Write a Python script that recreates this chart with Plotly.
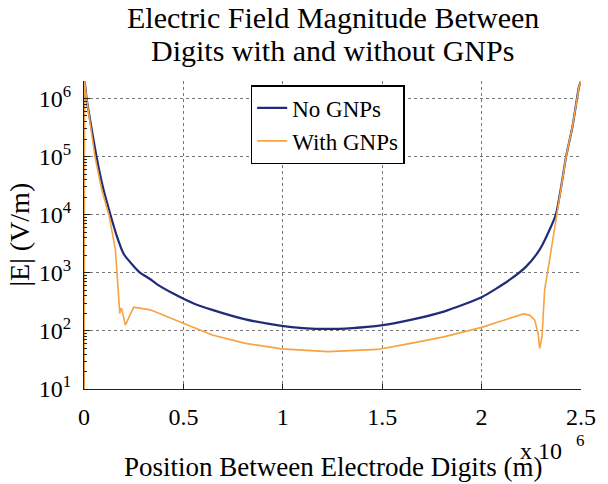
import plotly.graph_objects as go

# positions in micrometres (axis shows x 10^-6 m), field magnitude in V/m
x_no = [0.0, 0.003, 0.013, 0.035, 0.063, 0.095, 0.133, 0.166, 0.2, 0.25, 0.283, 0.33, 0.366, 0.449,
        0.549, 0.645, 0.812, 0.994, 1.1, 1.228, 1.35, 1.477, 1.643, 1.81, 2.0, 2.142, 2.225,
        2.292, 2.342, 2.375, 2.4, 2.425, 2.458, 2.49, 2.5]
e_no = [0.5, 2.0e6, 1.0e6, 3.5e5, 1.0e5, 3.0e4, 1.0e4, 4.2e3, 2.1e3, 1.3e3, 1.0e3, 790, 640, 440,
        300, 230, 158, 122, 112, 108, 112, 122, 155, 215, 380, 760, 1290,
        2500, 5500, 1.05e4, 3.0e4, 1.0e5, 3.4e5, 1.6e6, 2.0e6]

x_gnp = [0.0, 0.003, 0.013, 0.035, 0.055, 0.09, 0.125, 0.158, 0.166, 0.174, 0.18, 0.186, 0.191,
         0.208, 0.25, 0.333, 0.416, 0.5, 0.645, 0.812, 0.994, 1.228, 1.477, 1.643, 1.81, 2.0,
         2.142, 2.21, 2.242, 2.267, 2.284, 2.292, 2.304, 2.317, 2.334, 2.35, 2.375, 2.4, 2.425,
         2.458, 2.49, 2.5]
e_gnp = [0.5, 2.0e6, 1.0e6, 3.0e5, 1.0e5, 2.6e4, 1.0e4, 2.5e3, 1.0e3, 390, 200, 245, 230,
         126, 256, 230, 176, 135, 85, 61, 49, 44, 48, 61, 79, 115,
         162, 196, 187, 155, 91, 50, 80, 510, 1130, 2500, 1.0e4, 3.2e4, 1.0e5,
         3.4e5, 1.6e6, 2.0e6]

x_ticks = [0, 0.5, 1, 1.5, 2, 2.5]
x_tick_text = ["0", "0.5", "1", "1.5", "2", "2.5"]
y_ticks = [10, 100, 1000, 1e4, 1e5, 1e6]
y_tick_text = ["10<sup>1</sup>", "10<sup>2</sup>", "10<sup>3</sup>", "10<sup>4</sup>",
               "10<sup>5</sup>", "10<sup>6</sup>"]

title_lines = ["Electric Field Magnitude Between", "Digits with and without GNPs"]
x_label = "Position Between Electrode Digits (m)"
y_label = "|E| (V/m)"

BLUE = "#1f2c78"
ORANGE = "#f6a341"
FONT = "Liberation Serif"

# plot area in pixels
L, R, T, B = 84, 585, 81, 389
W, H = R - L, B - T


def px(xp):
    return (xp - L) / W


def py(yp):
    return (B - yp) / H


fig = go.Figure()
fig.add_trace(go.Scatter(x=x_no, y=e_no, mode="lines", name="No GNPs",
                         line=dict(color=BLUE, width=2.2, shape="spline", smoothing=0.6)))
fig.add_trace(go.Scatter(x=x_gnp, y=e_gnp, mode="lines", name="With GNPs",
                         line=dict(color=ORANGE, width=1.6)))

fig.update_layout(
    width=608, height=484,
    margin=dict(l=L, r=608 - R, t=T, b=484 - B),
    paper_bgcolor="white", plot_bgcolor="white",
    font=dict(family=FONT, size=24, color="black"),
    showlegend=True,
    legend=dict(x=px(252), y=py(85), xanchor="left", yanchor="top",
                bgcolor="white", bordercolor="black", borderwidth=1.5,
                font=dict(family=FONT, size=23, color="black"),
                tracegroupgap=0, itemwidth=30),
)

fig.update_xaxes(
    range=[0, 2.5], tickvals=x_ticks, ticktext=x_tick_text,
    showline=True, linecolor="#222222", linewidth=1,
    ticks="inside", ticklen=5, tickcolor="#222222",
    ticklabelstandoff=6,
    showgrid=True, gridcolor="#777777", griddash="dot", gridwidth=1,
    zeroline=False, mirror=False,
    tickfont=dict(family=FONT, size=24, color="black"),
)
fig.update_yaxes(
    type="log", range=[1, 6.301],
    tickvals=y_ticks, ticktext=y_tick_text,
    showline=True, linecolor="#222222", linewidth=1,
    ticks="inside", ticklen=6, tickcolor="#222222",
    ticklabelstandoff=7,
    minor=dict(ticks="inside", ticklen=3, tickcolor="#222222", dtick="D1", showgrid=False),
    showgrid=True, gridcolor="#777777", griddash="dot", gridwidth=1,
    zeroline=False, mirror=False,
    tickfont=dict(family=FONT, size=24, color="black"),
)

fig.add_annotation(text=title_lines[0], xref="paper", yref="paper",
                   x=0.5, y=py(18), showarrow=False, xanchor="center", yanchor="middle",
                   font=dict(family=FONT, size=30, color="black"))
fig.add_annotation(text=title_lines[1], xref="paper", yref="paper",
                   x=0.5, y=py(50), showarrow=False, xanchor="center", yanchor="middle",
                   font=dict(family=FONT, size=30, color="black"))
fig.add_annotation(text=y_label, xref="paper", yref="paper",
                   x=px(18), y=0.5, textangle=-90,
                   showarrow=False, xanchor="center", yanchor="middle",
                   font=dict(family=FONT, size=28, color="black"))
fig.add_annotation(text=x_label, xref="paper", yref="paper",
                   x=0.5, y=py(467),
                   showarrow=False, xanchor="center", yanchor="middle",
                   font=dict(family=FONT, size=27, color="black"))
fig.add_annotation(text="x 10", xref="paper", yref="paper",
                   x=px(545), y=py(451),
                   showarrow=False, xanchor="center", yanchor="middle",
                   font=dict(family=FONT, size=24, color="black"))
fig.add_annotation(text="6", xref="paper", yref="paper",
                   x=px(584), y=py(440),
                   showarrow=False, xanchor="center", yanchor="middle",
                   font=dict(family=FONT, size=17, color="black"))

fig.write_html("out.html")
